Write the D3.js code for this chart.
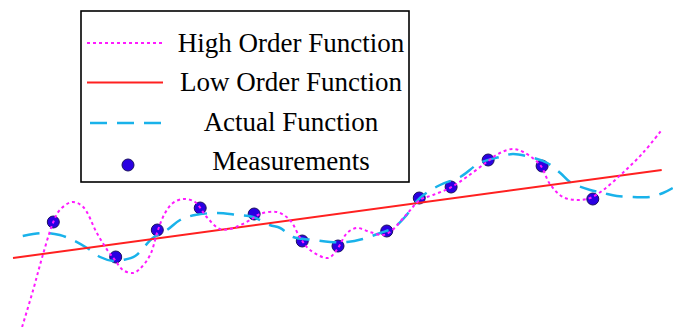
<!DOCTYPE html>
<html>
<head>
<meta charset="utf-8">
<script src="https://cdn.jsdelivr.net/npm/d3@7/dist/d3.min.js"></script>
<style>
  html, body { margin: 0; padding: 0; background: #fff; }
  svg { display: block; }
</style>
</head>
<body>
<script>
// Noisy measurements of a smooth function, with a high-order and a low-order fit.
const measX = [0.62, 1.58, 2.22, 2.88, 3.71, 4.45, 5.00, 5.75, 6.25, 6.74, 7.31, 8.14, 8.92];
const measY = [-0.12, -0.47, -0.20, 0.02, -0.04, -0.31, -0.36, -0.21, 0.12, 0.23, 0.50, 0.44, 0.11];

// Underlying ("actual") function, sampled
const actualX = [0.15, 0.31, 0.52, 0.72, 0.92, 1.14, 1.34, 1.54, 1.69, 1.88, 2.15, 2.37, 2.57, 2.80,
  3.14, 3.45, 3.69, 3.95, 4.11, 4.31, 4.62, 4.88, 5.14, 5.38, 5.65, 5.85, 6.03, 6.26, 6.57, 6.88,
  7.18, 7.49, 7.69, 7.95, 8.22, 8.42, 8.57, 8.88, 9.08, 9.29, 9.54, 9.80, 10.00, 10.15];
const actualY = [-0.26, -0.24, -0.23, -0.25, -0.30, -0.38, -0.47, -0.51, -0.50, -0.46, -0.28, -0.20, -0.10, -0.05,
  -0.03, -0.05, -0.07, -0.15, -0.18, -0.27, -0.30, -0.32, -0.32, -0.29, -0.23, -0.18, -0.07, 0.12, 0.25, 0.33,
  0.47, 0.53, 0.56, 0.53, 0.47, 0.37, 0.28, 0.20, 0.17, 0.14, 0.13, 0.13, 0.17, 0.22];

// High-order polynomial fit (overfits the measurements)
const highX = [0.14, 0.31, 0.45, 0.62, 0.72, 0.91, 1.08, 1.29, 1.45, 1.57, 1.69, 1.85, 1.95, 2.11, 2.23,
  2.34, 2.46, 2.62, 2.80, 2.98, 3.18, 3.34, 3.65, 3.80, 4.06, 4.26, 4.42, 4.57, 4.85, 4.98, 5.14,
  5.29, 5.49, 5.69, 5.80, 6.06, 6.26, 6.46, 6.72, 6.98, 7.29, 7.49, 7.69, 7.85, 8.11, 8.26, 8.46,
  8.68, 8.88, 9.08, 9.38, 9.69, 9.98];
const highY = [-1.17, -0.80, -0.47, -0.12, 0.00, 0.08, 0.03, -0.23, -0.40, -0.50, -0.60, -0.63, -0.59, -0.45, -0.20,
  -0.03, 0.07, 0.11, 0.08, -0.07, -0.19, -0.19, -0.10, -0.04, -0.02, -0.10, -0.28, -0.40, -0.48, -0.40, -0.23,
  -0.18, -0.22, -0.25, -0.22, -0.04, 0.10, 0.15, 0.22, 0.33, 0.48, 0.57, 0.61, 0.58, 0.45, 0.26, 0.13,
  0.10, 0.12, 0.20, 0.37, 0.57, 0.80];

// Low-order (linear) fit, end points
const lowX = [0.00, 9.98];
const lowY = [-0.48, 0.40];

const legendLabels = ["High Order Function", "Low Order Function", "Actual Function", "Measurements"];

const W = 673, H = 327;
const svg = d3.select("body").append("svg").attr("width", W).attr("height", H);

const x = d3.scaleLinear().domain([0, 10]).range([13, 663]);
const y = d3.scaleLinear().domain([-1, 1]).range([310, 110]);

const zip = (xs, ys) => xs.map((v, i) => [v, ys[i]]);
const line = d3.line().x(d => x(d[0])).y(d => y(d[1])).curve(d3.curveCatmullRom.alpha(0.5));

const styles = {
  high:   { stroke: "#ff1aff", width: 2,   dash: "3,3" },
  low:    { stroke: "#ff2020", width: 2,   dash: null },
  actual: { stroke: "#19b2ea", width: 2.5, dash: "17,10" },
  meas:   { fill: "#2a00e2", stroke: "#1a1060", r: 6 }
};

// Measurements
svg.append("g").selectAll("circle")
  .data(zip(measX, measY))
  .join("circle")
  .attr("cx", d => x(d[0]))
  .attr("cy", d => y(d[1]))
  .attr("r", styles.meas.r)
  .attr("fill", styles.meas.fill)
  .attr("stroke", styles.meas.stroke)
  .attr("stroke-width", 1);

function drawCurve(data, s) {
  svg.append("path")
    .datum(data)
    .attr("d", line)
    .attr("fill", "none")
    .attr("stroke", s.stroke)
    .attr("stroke-width", s.width)
    .attr("stroke-dasharray", s.dash);
}

drawCurve(zip(actualX, actualY), styles.actual);
svg.append("path")
  .datum(zip(lowX, lowY))
  .attr("d", d3.line().x(d => x(d[0])).y(d => y(d[1])))
  .attr("fill", "none")
  .attr("stroke", styles.low.stroke)
  .attr("stroke-width", styles.low.width);
drawCurve(zip(highX, highY), styles.high);

// Legend
const lg = svg.append("g");
lg.append("rect")
  .attr("x", 81).attr("y", 11).attr("width", 328).attr("height", 171)
  .attr("fill", "#fff").attr("stroke", "#000").attr("stroke-width", 1.6);

const rowY = [43, 82.5, 123, 165];
const textY = [52, 91.3, 130.6, 170];
const keys = ["high", "low", "actual"];
keys.forEach((k, i) => {
  const s = styles[k];
  lg.append("line")
    .attr("x1", k === "actual" ? 90 : 87).attr("x2", 163)
    .attr("y1", rowY[i]).attr("y2", rowY[i])
    .attr("stroke", s.stroke)
    .attr("stroke-width", s.width)
    .attr("stroke-dasharray", s.dash);
});
lg.append("circle")
  .attr("cx", 128).attr("cy", rowY[3]).attr("r", styles.meas.r)
  .attr("fill", styles.meas.fill)
  .attr("stroke", styles.meas.stroke)
  .attr("stroke-width", 1);

lg.selectAll("text")
  .data(legendLabels)
  .join("text")
  .attr("x", 291)
  .attr("y", (d, i) => textY[i])
  .attr("text-anchor", "middle")
  .attr("font-family", "'Liberation Serif', 'Times New Roman', serif")
  .attr("font-size", 27)
  .attr("fill", "#000")
  .text(d => d);
</script>
</body>
</html>
